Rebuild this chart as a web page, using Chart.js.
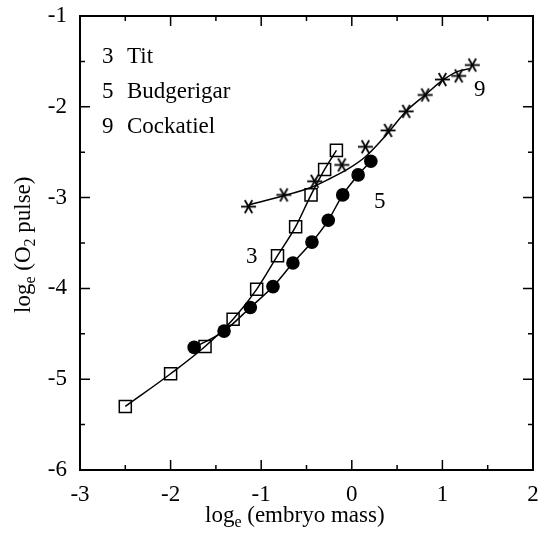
<!DOCTYPE html>
<html>
<head>
<meta charset="utf-8">
<script src="https://cdn.jsdelivr.net/npm/chart.js@4"></script>
<style>
  html, body { margin: 0; padding: 0; background: #fff; }
  #wrap { width: 539px; height: 535px; }
</style>
</head>
<body>
<div id="wrap"><canvas id="chart-o2" width="539" height="535"></canvas></div>
<script>
// data (log_e embryo mass vs log_e O2 pulse)
var titX = [-2.5, -2.0, -1.62, -1.31, -1.05, -0.82, -0.62, -0.45, -0.30, -0.17];
var titY = [-5.30, -4.94, -4.64, -4.34, -4.01, -3.64, -3.32, -2.97, -2.69, -2.48];

var budX = [-1.74, -1.41, -1.12, -0.87, -0.65, -0.44, -0.26, -0.10, 0.07, 0.21];
var budY = [-4.65, -4.47, -4.21, -3.98, -3.72, -3.49, -3.25, -2.97, -2.75, -2.60];

var cockX = [-1.14, -0.75, -0.41, -0.11, 0.15, 0.40, 0.60, 0.81, 1.00, 1.18, 1.33];
var cockY = [-3.10, -2.97, -2.82, -2.64, -2.44, -2.26, -2.05, -1.87, -1.70, -1.66, -1.54];

// fitted curve for cockatiel (does not pass through every star)
var cockFitX = [-1.14, -0.79, -0.43, -0.24, -0.05, 0.15, 0.38, 0.60, 0.81, 1.00, 1.17, 1.30];
var cockFitY = [-3.08, -2.99, -2.88, -2.79, -2.69, -2.55, -2.31, -2.05, -1.87, -1.71, -1.61, -1.58];

var legendNums = ["3", "5", "9"];
var legendNames = ["Tit", "Budgerigar", "Cockatiel"];

var xMin = -3, xMax = 2, yMin = -6, yMax = -1;

var FONT = "'Liberation Serif', 'DejaVu Serif', serif";
var FS = 23, SUB = 16;

function toPoints(xs, ys) {
  return xs.map(function (x, i) { return { x: x, y: ys[i] }; });
}

// asterisk marker
function makeStar() {
  var c = document.createElement("canvas");
  c.width = 17; c.height = 17;
  var g = c.getContext("2d");
  g.strokeStyle = "#000";
  g.lineWidth = 1.8;
  var r = 7.5;
  for (var k = 0; k < 3; k++) {
    var a = k * Math.PI / 3;
    g.beginPath();
    g.moveTo(8.5 - r * Math.cos(a), 8.5 - r * Math.sin(a));
    g.lineTo(8.5 + r * Math.cos(a), 8.5 + r * Math.sin(a));
    g.stroke();
  }
  return c;
}
var star = makeStar();

// frame, inward ticks, titles and labels
var framePlugin = {
  id: "frame",
  afterDraw: function (chart) {
    var ctx = chart.ctx;
    var a = chart.chartArea;
    var xs = chart.scales.x, ys = chart.scales.y;
    ctx.save();
    ctx.strokeStyle = "#000";
    ctx.lineWidth = 2;
    ctx.strokeRect(a.left, a.top, a.right - a.left, a.bottom - a.top);

    ctx.lineWidth = 1.5;
    ctx.beginPath();
    for (var v = xMin; v <= xMax + 0.001; v += 0.5) {
      var px = xs.getPixelForValue(v);
      var len = (Math.abs(v - Math.round(v)) < 0.01) ? 10 : 5;
      ctx.moveTo(px, a.bottom); ctx.lineTo(px, a.bottom - len);
      ctx.moveTo(px, a.top); ctx.lineTo(px, a.top + len);
    }
    for (var w = yMin; w <= yMax + 0.001; w += 0.5) {
      var py = ys.getPixelForValue(w);
      var l2 = (Math.abs(w - Math.round(w)) < 0.01) ? 10 : 5;
      ctx.moveTo(a.left, py); ctx.lineTo(a.left + l2, py);
      ctx.moveTo(a.right, py); ctx.lineTo(a.right - l2, py);
    }
    ctx.stroke();

    ctx.fillStyle = "#000";
    ctx.textBaseline = "alphabetic";
    ctx.textAlign = "left";
    ctx.font = FS + "px " + FONT;

    // legend text
    for (var i = 0; i < legendNums.length; i++) {
      ctx.fillText(legendNums[i], 102, 63 + i * 35);
      ctx.fillText(legendNames[i], 127, 63 + i * 35);
    }

    // curve numbers
    ctx.fillText("3", 246, 263);
    ctx.fillText("5", 374, 208);
    ctx.fillText("9", 474, 96);

    // x axis title
    var x0 = 205, base = 522;
    ctx.fillText("log", x0, base);
    var w1 = ctx.measureText("log").width;
    ctx.font = SUB + "px " + FONT;
    ctx.fillText("e", x0 + w1, base + 5);
    var w2 = ctx.measureText("e").width;
    ctx.font = FS + "px " + FONT;
    ctx.fillText(" (embryo mass)", x0 + w1 + w2, base);

    // y axis title (rotated)
    ctx.save();
    ctx.translate(30, 313);
    ctx.rotate(-Math.PI / 2);
    var pos = 0;
    ctx.fillText("log", pos, 0); pos += ctx.measureText("log").width;
    ctx.font = SUB + "px " + FONT;
    ctx.fillText("e", pos, 5); pos += ctx.measureText("e").width;
    ctx.font = FS + "px " + FONT;
    ctx.fillText(" (O", pos, 0); pos += ctx.measureText(" (O").width;
    ctx.font = SUB + "px " + FONT;
    ctx.fillText("2", pos, 5); pos += ctx.measureText("2").width;
    ctx.font = FS + "px " + FONT;
    ctx.fillText(" pulse)", pos, 0);
    ctx.restore();

    ctx.restore();
  }
};

var ctx = document.getElementById("chart-o2").getContext("2d");
var chartO2 = new Chart(ctx, {
  type: "scatter",
  data: {
    datasets: [
      {
        label: "Cockatiel fit",
        data: toPoints(cockFitX, cockFitY),
        showLine: true,
        borderColor: "#000",
        borderWidth: 1.5,
        pointRadius: 0,
        cubicInterpolationMode: "monotone",
        fill: false
      },
      {
        label: "Tit",
        data: toPoints(titX, titY),
        showLine: true,
        borderColor: "#000",
        borderWidth: 1.5,
        cubicInterpolationMode: "monotone",
        pointStyle: "rect",
        pointRadius: 8.5,
        pointBorderWidth: 1.5,
        pointBorderColor: "#000",
        pointBackgroundColor: "rgba(0,0,0,0)",
        fill: false
      },
      {
        label: "Budgerigar",
        data: toPoints(budX, budY),
        showLine: true,
        borderColor: "#000",
        borderWidth: 1.5,
        cubicInterpolationMode: "monotone",
        pointStyle: "circle",
        pointRadius: 6.8,
        pointBorderWidth: 0,
        pointBackgroundColor: "#000",
        fill: false
      },
      {
        label: "Cockatiel",
        data: toPoints(cockX, cockY),
        showLine: false,
        pointStyle: star,
        pointRadius: 8
      }
    ]
  },
  options: {
    responsive: false,
    animation: false,
    events: [],
    layout: { autoPadding: false, padding: { top: 16, right: 6, left: 0, bottom: 0 } },
    plugins: {
      legend: { display: false },
      tooltip: { enabled: false }
    },
    scales: {
      x: {
        type: "linear",
        min: xMin,
        max: xMax,
        grid: { display: false, drawTicks: false },
        border: { display: false },
        ticks: {
          stepSize: 1,
          color: "#000",
          font: { family: FONT, size: FS },
          padding: 11,
          maxRotation: 0
        },
        afterFit: function (scale) {
          scale.height = 65;
          scale.paddingLeft = 0;
          scale.paddingRight = 0;
        }
      },
      y: {
        type: "linear",
        min: yMin,
        max: yMax,
        grid: { display: false, drawTicks: false },
        border: { display: false },
        ticks: {
          stepSize: 1,
          color: "#000",
          font: { family: FONT, size: FS },
          padding: 13
        },
        afterFit: function (scale) {
          scale.width = 80;
          scale.paddingTop = 0;
          scale.paddingBottom = 0;
        }
      }
    }
  },
  plugins: [framePlugin]
});
</script>
</body>
</html>
